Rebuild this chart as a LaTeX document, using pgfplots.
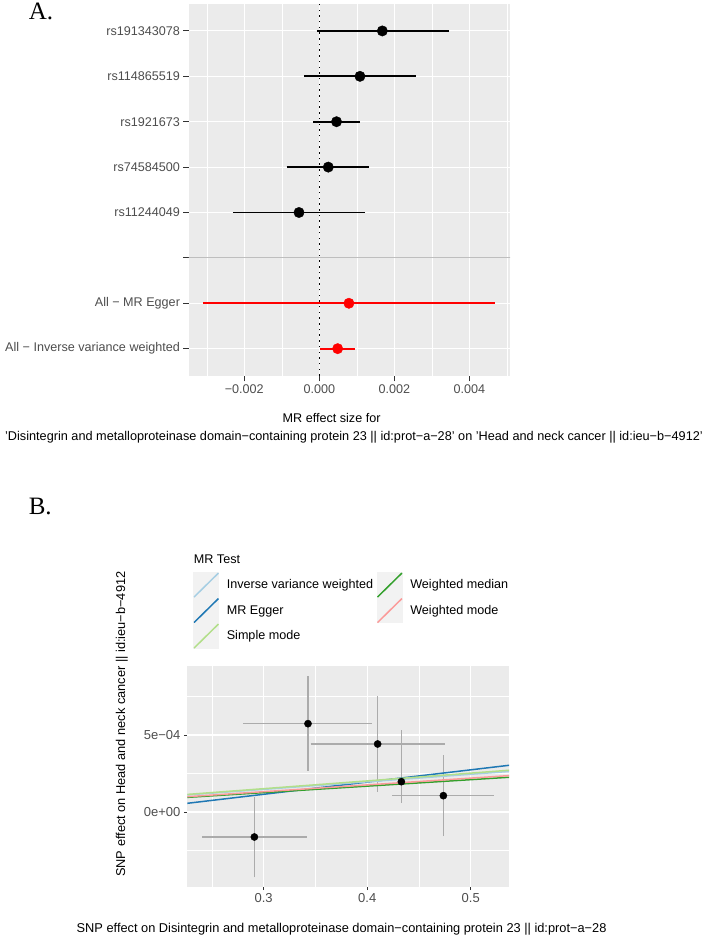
\documentclass[border=0pt]{standalone}
\usepackage{fontspec}
\setmainfont{Liberation Sans}
\newfontfamily\panelfont{Liberation Serif}
\usepackage{pgfplots}
\usepackage{pgfplotstable}
\pgfplotsset{compat=1.18}

\definecolor{panelbg}{HTML}{EBEBEB}
\definecolor{keybg}{HTML}{F2F2F2}
\definecolor{tickgray}{HTML}{333333}
\definecolor{labgray}{HTML}{4D4D4D}
\definecolor{sepgray}{HTML}{BEBEBE}
\definecolor{errgray}{HTML}{ABABAB}
\definecolor{ivw}{HTML}{A6CEE3}
\definecolor{egger}{HTML}{1F78B4}
\definecolor{smode}{HTML}{B2DF8A}
\definecolor{wmedian}{HTML}{33A02C}
\definecolor{wmode}{HTML}{FB9A99}
\definecolor{mrred}{HTML}{FF0000}

% single-SNP Wald ratios (row = position on the y axis)
\pgfplotstableread{
row b
8 0.001680
7 0.001084
6 0.000459
5 0.000239
4 -0.000542
}\snpest

% combined estimates
\pgfplotstableread{
row b
2 0.000790
1 0.000489
}\mrall

% SNP effects on exposure (bx) and outcome (by)
\pgfplotstableread{
bx by
0.2910 -1.623e-4
0.3428 5.736e-4
0.4101 4.416e-4
0.4330 1.970e-4
0.4736 1.060e-4
}\snpfx

\pgfplotsset{
  ggbase/.style={
    scale only axis,
    axis background/.style={fill=panelbg},
    axis line style={draw=none},
    grid=both,
    major grid style={white, line width=1.1pt},
    minor grid style={white, line width=0.55pt},
    tick align=outside,
    tick style={tickgray, line width=1pt},
    minor tick length=0pt,
    xtick pos=bottom, ytick pos=left,
    scaled x ticks=false, scaled y ticks=false,
    ticklabel style={text=labgray},
    clip=true,
  },
  ci/.style={black, line width=1.8pt, forget plot},
  ciall/.style={mrred, line width=1.8pt, forget plot},
  cib/.style={errgray, line width=1.2pt, forget plot},
}

\begin{document}
\begin{tikzpicture}
\path[use as bounding box] (0pt,0pt) rectangle (708pt,938pt);

% ---------------- A: forest plot ----------------
\begin{axis}[ggbase,
  at={(189pt,562.1pt)}, anchor=south west,
  width=321pt, height=372.2pt,
  xmin=-0.003475, xmax=0.005085,
  ymin=0.4, ymax=8.6,
  xtick={-0.002,0,0.002,0.004},
  xticklabels={−0.002,0.000,0.002,0.004},
  minor xtick={-0.003,-0.001,0.001,0.003,0.005},
  ytick={1,2,3,4,5,6,7,8},
  yticklabels={All − Inverse variance weighted, All − MR Egger, {}, rs11244049, rs74584500, rs1921673, rs114865519, rs191343078},
  major tick length=5.5pt,
  ticklabel style={font=\fontsize{12.6}{15}\selectfont},
]
\addplot[black, line width=1.3pt, dash pattern=on 1.5pt off 4.2pt] coordinates {(0,0.4) (0,8.6)};
% 95% confidence intervals
\addplot[ci] coordinates {(-0.000073,8) (0.003453,8)};
\addplot[ci] coordinates {(-0.000404,7) (0.002580,7)};
\addplot[ci] coordinates {(-0.000156,6) (0.001074,6)};
\addplot[ci] coordinates {(-0.000872,5) (0.001322,5)};
\addplot[ci] coordinates {(-0.002305,4) (0.001212,4)};
\addplot[ciall] coordinates {(-0.003093,2) (0.004684,2)};
\addplot[ciall] coordinates {(0.000027,1) (0.000951,1)};
% point estimates
\addplot[black, only marks, mark=*, mark size=5.2pt] table[x=b, y=row] {\snpest};
\addplot[mrred, only marks, mark=*, mark size=5.2pt] table[x=b, y=row] {\mrall};
\addplot[sepgray, line width=1.1pt] coordinates {(-0.004,3) (0.006,3)};
\end{axis}

\node[anchor=center, inner sep=0pt, font=\fontsize{12.6}{15}\selectfont] at (331.6pt,520pt) {MR effect size for};
\node[anchor=base, inner sep=0pt, font=\fontsize{12.7}{15}\selectfont] at (354pt,497pt) {'Disintegrin and metalloproteinase domain−containing protein 23 || id:prot−a−28' on 'Head and neck cancer || id:ieu−b−4912'};

\node[anchor=base west, inner sep=0pt, font=\panelfont\fontsize{25}{30}\selectfont] at (28.6pt,918pt) {A.};
\node[anchor=base west, inner sep=0pt, font=\panelfont\fontsize{25}{30}\selectfont] at (28.6pt,423.5pt) {B.};

% ---------------- B: scatter plot ----------------
\begin{axis}[ggbase,
  at={(187.3pt,51.3pt)}, anchor=south west,
  width=321.7pt, height=221pt,
  xmin=0.2262, xmax=0.537,
  ymin=-4.85e-4, ymax=9.5e-4,
  xtick={0.3,0.4,0.5}, xticklabels={0.3,0.4,0.5},
  minor xtick={0.25,0.35,0.45,0.55},
  ytick={0,5e-4}, yticklabels={0e+00,5e−04},
  minor ytick={-2.5e-4,2.5e-4,7.5e-4},
  major tick length=3.4pt,
  ticklabel style={font=\fontsize{13}{15}\selectfont},
  legend image code/.code={
    \fill[keybg] (0pt,-12pt) rectangle (24.4pt,12pt);
    \draw[#1] (0pt,-12pt) -- (24.4pt,12pt);
  },
  legend columns=2,
  legend cell align=left,
  legend style={at={(axis description cs:0.01865,1.4226)}, anchor=north west,
    draw=none, fill=none, inner sep=0pt, outer sep=0pt,
    row sep=0pt,
    nodes={inner sep=0pt},
    font=\fontsize{12.6}{15}\selectfont,
    /tikz/every odd column/.append style={column sep=7.6pt},
    /tikz/every even column/.append style={column sep=3.6pt},
  },
]
\addlegendimage{ivw, line width=1.5pt}
\addlegendentry{Inverse variance weighted}
\addlegendimage{wmedian, line width=1.5pt}
\addlegendentry{Weighted median}
\addlegendimage{egger, line width=1.5pt}
\addlegendentry{MR Egger}
\addlegendimage{wmode, line width=1.5pt}
\addlegendentry{Weighted mode}
\addlegendimage{smode, line width=1.5pt}
\addlegendentry{Simple mode}

% horizontal intervals (exposure)
\addplot[cib] coordinates {(0.2407,-1.623e-4) (0.3422,-1.623e-4)};
\addplot[cib] coordinates {(0.2804,5.736e-4) (0.4047,5.736e-4)};
\addplot[cib] coordinates {(0.3454,4.416e-4) (0.4752,4.416e-4)};
\addplot[cib] coordinates {(0.4300,1.970e-4) (0.4360,1.970e-4)};
\addplot[cib] coordinates {(0.4243,1.060e-4) (0.5225,1.060e-4)};
% vertical intervals (outcome)
\addplot[cib] coordinates {(0.2910,-4.240e-4) (0.2910,0.952e-4)};
\addplot[cib] coordinates {(0.3428,2.680e-4) (0.3428,8.830e-4)};
\addplot[cib] coordinates {(0.4101,1.320e-4) (0.4101,7.550e-4)};
\addplot[cib] coordinates {(0.4330,0.606e-4) (0.4330,5.310e-4)};
\addplot[cib] coordinates {(0.4736,-1.560e-4) (0.4736,3.680e-4)};

\addplot[black, only marks, mark=*, mark size=3.6pt, forget plot] table[x=bx, y=by] {\snpfx};

% fitted MR lines (drawn in the order of the results table)
\addplot[egger, line width=1.5pt, forget plot] coordinates {(0.2,0.357e-4) (0.56,3.215e-4)};
\addplot[wmedian, line width=1.5pt, forget plot] coordinates {(0.2,0.84e-4) (0.56,2.352e-4)};
\addplot[ivw, line width=1.5pt, forget plot] coordinates {(0.2,0.98e-4) (0.56,2.744e-4)};
\addplot[smode, line width=1.5pt, forget plot] coordinates {(0.2,1.01e-4) (0.56,2.828e-4)};
\addplot[wmode, line width=1.5pt, forget plot] coordinates {(0.2,0.88e-4) (0.56,2.464e-4)};
\end{axis}

\node[anchor=west, inner sep=0pt, font=\fontsize{12.6}{15}\selectfont] at (193.7pt,379pt) {MR Test};
\node[anchor=base west, inner sep=0pt, font=\fontsize{12.8}{15}\selectfont] at (76.5pt,5.3pt) {SNP effect on Disintegrin and metalloproteinase domain−containing protein 23 || id:prot−a−28};
\node[anchor=base west, rotate=90, inner sep=0pt, font=\fontsize{12.8}{15}\selectfont] at (125pt,61pt) {SNP effect on Head and neck cancer || id:ieu−b−4912};
\end{tikzpicture}
\end{document}
